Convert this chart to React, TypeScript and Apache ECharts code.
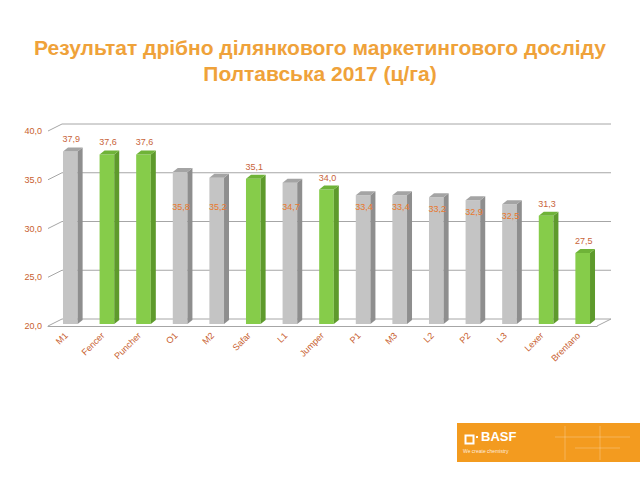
import React, { useEffect, useRef } from "react";
import * as echarts from "echarts";

const categories = ["M1", "Fencer", "Puncher", "O1", "M2", "Safar", "L1", "Jumper", "P1", "M3", "L2", "P2", "L3", "Lexer", "Brentano"];
const values = [37.9, 37.6, 37.6, 35.8, 35.2, 35.1, 34.7, 34.0, 33.4, 33.4, 33.2, 32.9, 32.5, 31.3, 27.5];
const isBasf = [false, true, true, false, false, true, false, true, false, false, false, false, false, true, true];
const labelInside = [false, false, false, true, true, false, true, false, true, true, true, true, true, false, false];
const yTicks = [20, 25, 30, 35, 40];

const fmt = (v: number) => v.toFixed(1).replace(".", ",");

const DX = 14;
const DY = 7;

export default function App() {
  const ref = useRef<HTMLDivElement>(null);
  useEffect(() => {
    if (!ref.current) return;
    const chart = echarts.init(ref.current, null, { renderer: "svg" });
    const font = "Arial, 'Liberation Sans', sans-serif";
    const option: any = {
      animation: false,
      backgroundColor: "#ffffff",
      title: {
        text: "Результат дрібно ділянкового маркетингового досліду\nПолтавська 2017 (ц/га)",
        left: "center",
        top: 29,
        textStyle: { fontSize: 21, fontWeight: "bold", color: "#EFA23A", fontFamily: font, lineHeight: 26 },
      },
      grid: { left: 48, right: 43, top: 131, bottom: 154 },
      xAxis: {
        type: "category",
        data: categories,
        axisLine: { lineStyle: { color: "#A6A6A6" } },
        axisTick: { length: 4, lineStyle: { color: "#A6A6A6" } },
        axisLabel: { rotate: 45, color: "#C8602E", fontSize: 9, fontFamily: font, margin: 8 },
      },
      yAxis: {
        type: "value",
        min: 20,
        max: 40,
        interval: 5,
        axisLine: { show: false },
        axisTick: { show: false },
        splitLine: { show: false },
        axisLabel: { color: "#C8602E", fontSize: 9, fontFamily: font, margin: 6, formatter: (v: number) => fmt(v) },
      },
      series: [
        {
          type: "custom",
          z: 1,
          silent: true,
          data: yTicks.map((t) => [0, t]),
          renderItem: (params: any, api: any) => {
            const cs = params.coordSys;
            const y = api.coord([0, api.value(1)])[1];
            const left = cs.x;
            const right = cs.x + cs.width;
            const style = { stroke: "#A6A6A6", lineWidth: 1, fill: "none" };
            const children: any[] = [
              { type: "polyline", shape: { points: [[left, y], [left + DX, y - DY], [right + DX, y - DY]] }, style },
            ];
            if (api.value(1) === 20) {
              children.push({ type: "line", shape: { x1: right, y1: y, x2: right + DX, y2: y - DY }, style });
            }
            return { type: "group", children };
          },
        },
        {
          type: "custom",
          z: 2,
          silent: true,
          data: values.map((v, i) => [i, v]),
          renderItem: (params: any, api: any) => {
            const i = api.value(0);
            const v = api.value(1);
            const top = api.coord([i, v]);
            const base = api.coord([i, 20]);
            const band = api.size([1, 0])[0];
            const w = band * 0.4;
            const x0 = top[0] - w / 2 + 4;
            const yTop = top[1];
            const yBot = base[1] - 2;
            const d = 5;
            const h = 4;
            const green = isBasf[i];
            const front = green ? "#86CC4A" : "#C4C4C4";
            const side = green ? "#5E9A2C" : "#8E8E8E";
            const cap = green ? "#6FB338" : "#A4A4A4";
            const cs = params.coordSys;
            const inside = labelInside[i];
            const labelY = inside ? Math.max(yTop + 12, cs.y + cs.height * 0.39) : yTop - 12;
            return {
              type: "group",
              children: [
                { type: "rect", shape: { x: x0, y: yTop, width: w, height: yBot - yTop }, style: { fill: front } },
                {
                  type: "polygon",
                  shape: { points: [[x0 + w, yTop], [x0 + w + d, yTop - h], [x0 + w + d, yBot - h], [x0 + w, yBot]] },
                  style: { fill: side },
                },
                {
                  type: "polygon",
                  shape: { points: [[x0, yTop], [x0 + d, yTop - h], [x0 + w + d, yTop - h], [x0 + w, yTop]] },
                  style: { fill: cap },
                },
                {
                  type: "text",
                  x: x0 + w / 2 + 1,
                  y: labelY,
                  style: {
                    text: fmt(v),
                    fill: inside ? "#E8782C" : "#C8643A",
                    fontSize: 9,
                    fontFamily: font,
                    align: "center",
                    verticalAlign: "middle",
                  },
                },
              ],
            };
          },
        },
      ],
      graphic: [
        { type: "rect", left: 457, top: 423, shape: { width: 183, height: 39 }, style: { fill: "#F39B1F" } },
        { type: "line", shape: { x1: 565, y1: 426, x2: 565, y2: 460 }, style: { stroke: "rgba(255,255,255,0.25)", lineWidth: 1 } },
        { type: "line", shape: { x1: 600, y1: 426, x2: 600, y2: 460 }, style: { stroke: "rgba(255,255,255,0.25)", lineWidth: 1 } },
        { type: "line", shape: { x1: 555, y1: 437, x2: 630, y2: 437 }, style: { stroke: "rgba(255,255,255,0.25)", lineWidth: 1 } },
        { type: "line", shape: { x1: 575, y1: 448, x2: 620, y2: 448 }, style: { stroke: "rgba(255,255,255,0.25)", lineWidth: 1 } },
        { type: "rect", left: 463, top: 433, shape: { width: 8, height: 8 }, style: { fill: "none", stroke: "#ffffff", lineWidth: 2 } },
        { type: "rect", left: 476, top: 436, shape: { width: 2, height: 2 }, style: { fill: "#ffffff" } },
        {
          type: "text",
          left: 481,
          top: 430,
          style: { text: "BASF", fill: "#ffffff", fontSize: 13, fontWeight: "bold", fontFamily: font },
        },
        {
          type: "text",
          left: 463,
          top: 448,
          style: { text: "We create chemistry", fill: "rgba(255,255,255,0.85)", fontSize: 5, fontFamily: font },
        },
      ],
    };
    chart.setOption(option);
    return () => chart.dispose();
  }, []);
  return <div ref={ref} style={{ position: "fixed", left: 0, top: 0, width: 640, height: 480 }} />;
}
